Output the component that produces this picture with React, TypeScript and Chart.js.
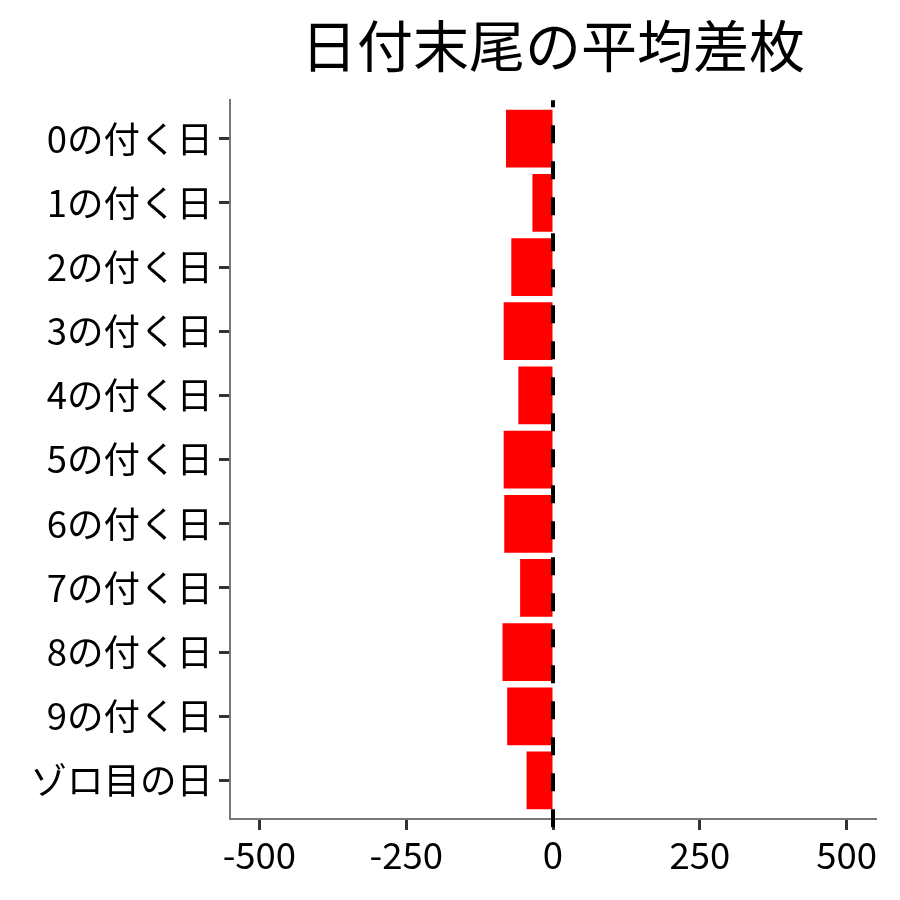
import { useEffect, useRef } from 'react'
import { Chart, registerables } from 'chart.js'

Chart.register(...registerables)

const FONT = '"Noto Sans CJK JP", "Noto Sans", sans-serif'

const CATEGORIES = [
  '0の付く日', '1の付く日', '2の付く日', '3の付く日', '4の付く日', '5の付く日',
  '6の付く日', '7の付く日', '8の付く日', '9の付く日', 'ゾロ目の日',
]
const AVG_DIFF = [-80, -35, -71, -84, -59, -84, -83, -56, -86, -78, -45]
const X_TICKS = [-500, -250, 0, 250, 500]
const X_MIN = -550
const X_MAX = 550
// categories sit on a numeric axis so the end padding can be 0.6 of a slot
const Y_PAD = 0.6

// dashed reference line at x = 0, drawn over the bars
const zeroLine = {
  id: 'zeroLine',
  afterDatasetsDraw(chart: any) {
    const { ctx, chartArea, scales } = chart
    const x = scales.x.getPixelForValue(0)
    ctx.save()
    ctx.strokeStyle = '#000'
    ctx.lineWidth = 4
    ctx.setLineDash([18, 18])
    ctx.lineDashOffset = 11
    ctx.beginPath()
    ctx.moveTo(x, chartArea.top)
    ctx.lineTo(x, chartArea.bottom + 11)
    ctx.stroke()
    ctx.restore()
  },
}

function BarChart() {
  const ref = useRef<HTMLCanvasElement>(null)
  useEffect(() => {
    if (!ref.current) return
    const chart = new Chart(ref.current, {
      type: 'bar',
      data: {
        datasets: [{
          data: AVG_DIFF.map((v, i) => ({ x: v, y: i })),
          backgroundColor: '#FF0000',
          borderWidth: 0,
          barPercentage: 0.9,
          categoryPercentage: 1,
        }],
      },
      options: {
        indexAxis: 'y',
        animation: false,
        responsive: true,
        maintainAspectRatio: false,
        layout: { padding: { top: 0, right: 24, bottom: 0, left: 0 } },
        plugins: {
          legend: { display: false },
          tooltip: { enabled: false },
          title: {
            display: true,
            text: '日付末尾の平均差枚',
            fullSize: false,
            color: '#000',
            font: { family: FONT, size: 56, weight: 'normal' as const },
            padding: { top: 12, bottom: 21 },
          },
        },
        scales: {
          x: {
            type: 'linear',
            min: X_MIN,
            max: X_MAX,
            afterBuildTicks: (scale: any) => { scale.ticks = X_TICKS.map(v => ({ value: v })) },
            afterFit: (scale: any) => { scale.height = 81 },
            grid: { drawOnChartArea: false, drawTicks: true, tickLength: 11, tickWidth: 3, tickColor: '#333' },
            border: { display: true, color: '#777', width: 2 },
            ticks: { color: '#000', font: { family: FONT, size: 36.5 }, padding: 3, maxRotation: 0 },
          },
          y: {
            type: 'linear',
            reverse: true,
            offset: false,
            min: -Y_PAD,
            max: CATEGORIES.length - 1 + Y_PAD,
            afterBuildTicks: (scale: any) => { scale.ticks = CATEGORIES.map((_, i) => ({ value: i })) },
            afterFit: (scale: any) => { scale.width = 230 },
            grid: { offset: false, drawOnChartArea: false, drawTicks: true, tickLength: 11, tickWidth: 3, tickColor: '#333' },
            border: { display: true, color: '#777', width: 2 },
            ticks: {
              color: '#000',
              font: { family: FONT, size: 36.5 },
              padding: 6,
              callback: (v: any) => CATEGORIES[v] ?? '',
            },
          },
        },
      },
      plugins: [zeroLine],
    })
    return () => chart.destroy()
  }, [])
  return <canvas ref={ref} />
}

export default function App() {
  useEffect(() => {
    document.body.style.margin = '0'
  }, [])
  return (
    <div style={{ position: 'relative', width: 900, height: 900, background: '#fff' }}>
      <BarChart />
    </div>
  )
}
